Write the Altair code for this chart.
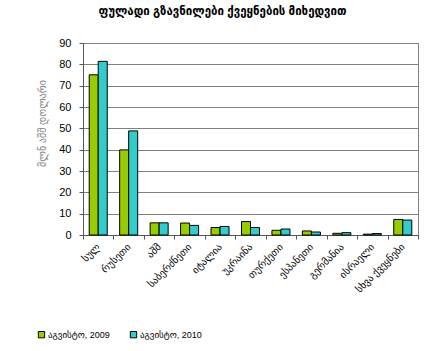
import altair as alt
import pandas as pd

categories = ["სულ", "რუსეთი", "აშშ", "საბერძნეთი", "იტალია", "უკრაინა",
              "თურქეთი", "ესპანეთი", "გერმანია", "ისრაელი", "სხვა ქვეყნები"]
v2009 = [75.1, 39.9, 5.7, 5.6, 3.5, 6.3, 2.2, 1.9, 0.8, 0.4, 7.3]
v2010 = [81.4, 48.8, 5.7, 4.5, 4.0, 3.5, 2.8, 1.4, 1.1, 0.7, 7.0]
series = ["აგვისტო, 2009", "აგვისტო, 2010"]
colors = ["#99CC00", "#33CCCC"]
y_ticks = [0, 10, 20, 30, 40, 50, 60, 70, 80, 90]

rows = []
for c, a, b in zip(categories, v2009, v2010):
    rows.append({"country": c, "series": series[0], "value": a})
    rows.append({"country": c, "series": series[1], "value": b})
df = pd.DataFrame(rows)

FONT = "Liberation Sans, DejaVu Sans"

chart = alt.Chart(df).mark_bar(stroke="black", strokeWidth=1).encode(
    x=alt.X("country:N", sort=categories,
            scale=alt.Scale(paddingInner=0, paddingOuter=0),
            axis=alt.Axis(title=None, labelAngle=-45, labelAlign="right",
                          labelBaseline="middle", tickBand="extent",
                          labelFontSize=10, labelColor="#000", labelPadding=6,
                          tickSize=4, tickColor="#555", domainColor="#555",
                          grid=False)),
    xOffset=alt.XOffset("series:N", sort=series,
                        scale=alt.Scale(paddingOuter=0.69, paddingInner=0)),
    y=alt.Y("value:Q", scale=alt.Scale(domain=[0, 90], nice=False),
            axis=alt.Axis(title="მლნ აშშ დოლარი", values=y_ticks,
                          labelFontSize=11, labelColor="#000", labelPadding=8,
                          tickSize=4, tickColor="#555", domainColor="#555",
                          grid=True, gridColor="#808080",
                          titleFontSize=10, titleColor="#808080",
                          titleFontWeight="normal",
                          titleX=-41, titleY=80, titleAngle=270,
                          titleAlign="center", titleBaseline="middle")),
    color=alt.Color("series:N", sort=series,
                    scale=alt.Scale(domain=series, range=colors),
                    legend=alt.Legend(title=None, orient="none", direction="horizontal",
                                      legendX=-46, legendY=287,
                                      symbolType="square", symbolSize=40,
                                      symbolStrokeColor="black", symbolStrokeWidth=1,
                                      symbolOpacity=1, labelFontSize=9,
                                      labelColor="#000", labelFont=FONT,
                                      columnPadding=18, labelOffset=2)),
).properties(
    width=335, height=192,
    title=alt.TitleParams("ფულადი გზავნილები ქვეყნების მიხედვით",
                          fontSize=11.5, fontWeight="bold", color="#000",
                          anchor="middle", dx=-28, offset=20, font=FONT),
    autosize=alt.AutoSizeParams(type="none"),
    padding={"left": 83, "top": 43, "right": 27, "bottom": 116},
).configure(font=FONT, background="white").configure_view(stroke="#808080", strokeWidth=1)

chart.save("out.html", embed_options={"renderer": "svg", "actions": False})
